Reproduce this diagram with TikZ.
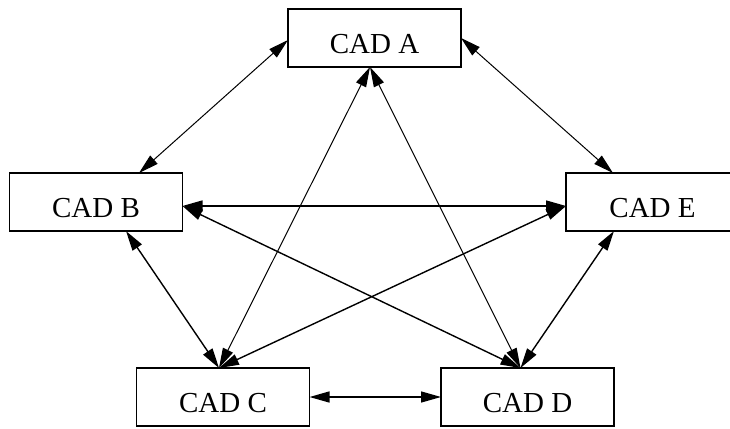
\documentclass[tikz,border=0pt]{standalone}
\usepackage{fontspec}
\setmainfont{Liberation Serif}
\usetikzlibrary{arrows.meta}
\begin{document}
\begin{tikzpicture}[x=1bp,y=-1bp,
  box/.style={draw, line width=1.3bp, minimum width=173bp, minimum height=58bp, inner sep=0pt, outer sep=0pt},
  lbl/.style={font=\fontsize{29bp}{30bp}\selectfont, anchor=base, inner sep=0pt},
  tipA/.tip={Triangle[length=20bp,width=11bp]},
  link/.style={line width=1.4bp, tipA-tipA},
  thinlink/.style={line width=1bp, tipA-tipA}]
\clip (0,0) rectangle (730,428);
\node[box] (a) at (374.5,38) {};
\node[box] (b) at (96,202) {};
\node[box] (e) at (652.5,202) {};
\node[box] (c) at (223,397) {};
\node[box] (d) at (527.5,397) {};
\node[lbl] (ta) at ([yshift=-15bp]a.center) {CAD A};
\node[lbl] (tb) at ([yshift=-15bp]b.center) {CAD B};
\node[lbl] (te) at ([yshift=-15bp]e.center) {CAD E};
\node[lbl] (tc) at ([yshift=-15bp]c.center) {CAD C};
\node[lbl] (td) at ([yshift=-15bp]d.center) {CAD D};
\coordinate (aS) at ([xshift=-4.5bp]a.south);
\coordinate (cN) at ([xshift=-4bp]c.north);
\coordinate (dN) at ([xshift=-7bp]d.north);
\coordinate (bE) at ([yshift=-4bp]b.east);
\coordinate (eW) at ([yshift=-4bp]e.west);
\draw[thinlink] ([xshift=43bp]b.north) -- ([yshift=-2bp]a.west);
\draw[thinlink] (a.east) -- ([xshift=-39.5bp]e.north);
\draw[thinlink] (aS) -- (cN);
\draw[thinlink] (aS) -- (dN);
\draw[link] (bE) -- (eW);
\draw[link] (bE) -- (dN);
\draw[link] ([xshift=30bp]b.south) -- (cN);
\draw[link] (eW) -- (cN);
\draw[link] ([xshift=-38.5bp]e.south) -- (dN);
\draw[link] (c.east) -- (d.west);
\end{tikzpicture}
\end{document}
